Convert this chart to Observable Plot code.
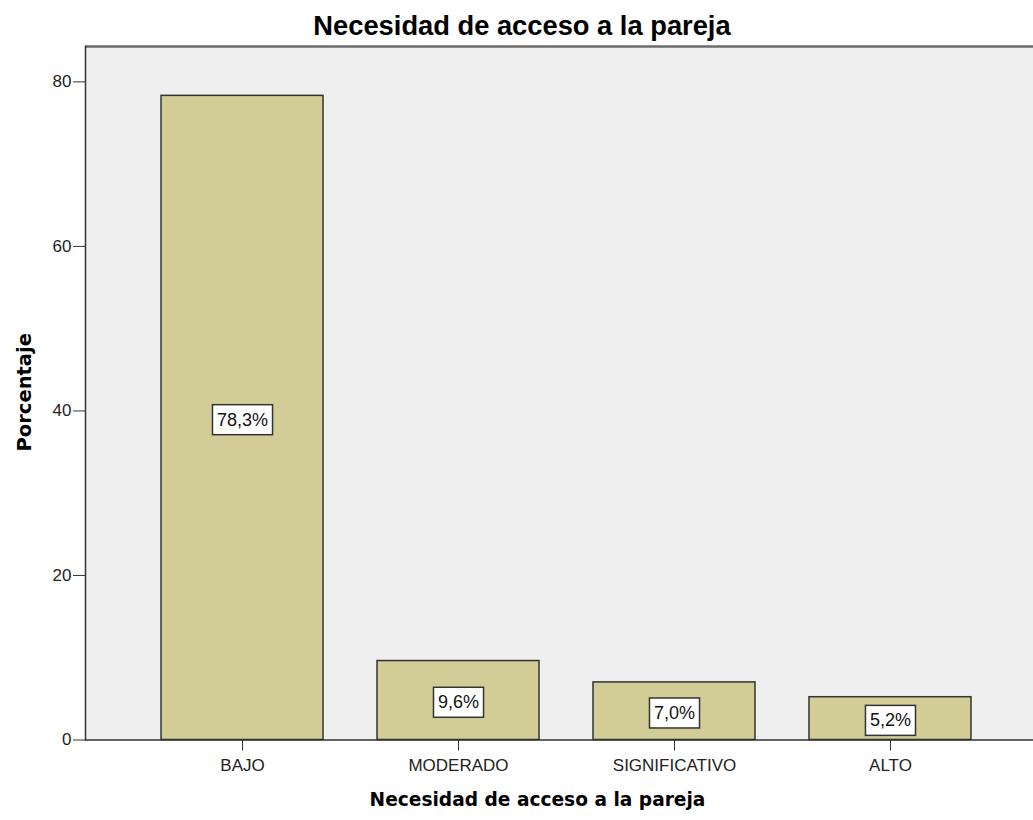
<!DOCTYPE html>
<html><head><meta charset="utf-8">
<script src="https://cdn.jsdelivr.net/npm/d3@7"></script>
<script src="https://cdn.jsdelivr.net/npm/@observablehq/plot@0.6"></script>
<style>
body{margin:0;background:#fff;}
#title{position:relative;height:44px;font:bold 27.3px "Liberation Sans",Arial,sans-serif;color:#000;}
#title span{position:absolute;left:522px;top:11.5px;line-height:27px;transform:translateX(-50%);white-space:nowrap;}
#chart svg{display:block;}
</style></head>
<body>
<div id="title"><span id="titleText"></span></div>
<div id="chart"></div>
<script>
const titleText = "Necesidad de acceso a la pareja";
const xLabel = "Necesidad de acceso a la pareja";
const yLabel = "Porcentaje";
const categories = ["BAJO", "MODERADO", "SIGNIFICATIVO", "ALTO"];
const percentages = [78.3, 9.6, 7.0, 5.2];
const yTicks = [0, 20, 40, 60, 80];
const yMax = 84.3;

document.getElementById("titleText").textContent = titleText;
const fmt = v => v.toFixed(1).replace(".", ",") + "%";
const data = categories.map((c, i) => ({category: c, value: percentages[i], label: fmt(percentages[i])}));

const chart = Plot.plot({
  width: 1033, height: 776,
  marginTop: 2, marginBottom: 80.5, marginLeft: 85, marginRight: 0,
  style: {background: "transparent", fontFamily: "'Liberation Sans', Arial, sans-serif", color: "#222"},
  x: {domain: categories, range: [85, 1047], paddingInner: 0.25, paddingOuter: 0.352, align: 0.5, round: false, axis: null},
  y: {domain: [0, yMax], axis: null},
  marks: [
    Plot.frame({fill: "#EFEFEF", stroke: null}),
    Plot.barY(data, {x: "category", y: "value", fill: "#D2CD96", stroke: "#333", strokeWidth: 1.5}),
    Plot.ruleY([yMax], {stroke: "#6b6b6b", strokeWidth: 2.5}),
    Plot.ruleY([0], {stroke: "#333", strokeWidth: 1.5}),
    Plot.frame({anchor: "left", stroke: "#333", strokeWidth: 1.5}),
    Plot.axisX({ticks: categories, tickSize: 11, tickPadding: 8, fontSize: 17, label: null, stroke: "#333"}),
    Plot.axisY({ticks: yTicks, tickSize: 12, tickPadding: 2, fontSize: 17, label: null, stroke: "#333"}),
    Plot.text([xLabel], {frameAnchor: "bottom", textAnchor: "middle", dx: -22, dy: 66, fontSize: 18.6, fontWeight: "bold", fontFamily: "'DejaVu Sans', sans-serif", fill: "#000"}),
    Plot.text([yLabel], {frameAnchor: "left", textAnchor: "middle", rotate: -90, dx: -61, dy: -1, fontSize: 19.5, fontWeight: "bold", fontFamily: "'DejaVu Sans', sans-serif", fill: "#000"}),
    Plot.text(data, {x: "category", y: d => d.value / 2, text: "label", fontSize: 18, dy: 2, fill: "#111"})
  ]
});
document.getElementById("chart").append(chart);

const labelSet = new Set(data.map(d => d.label));
d3.select(chart).selectAll("text").each(function() {
  if (!labelSet.has(this.textContent)) return;
  const b = this.getBBox();
  const padX = 4.5, padY = 5;
  const r = document.createElementNS("http://www.w3.org/2000/svg", "rect");
  r.setAttribute("x", b.x - padX);
  r.setAttribute("y", b.y - padY);
  r.setAttribute("width", b.width + 2 * padX);
  r.setAttribute("height", b.height + 2 * padY);
  r.setAttribute("fill", "#fff");
  r.setAttribute("stroke", "#333");
  r.setAttribute("stroke-width", "1.5");
  const tr = this.getAttribute("transform");
  if (tr) r.setAttribute("transform", tr);
  this.parentNode.insertBefore(r, this);
});
</script>
</body></html>
